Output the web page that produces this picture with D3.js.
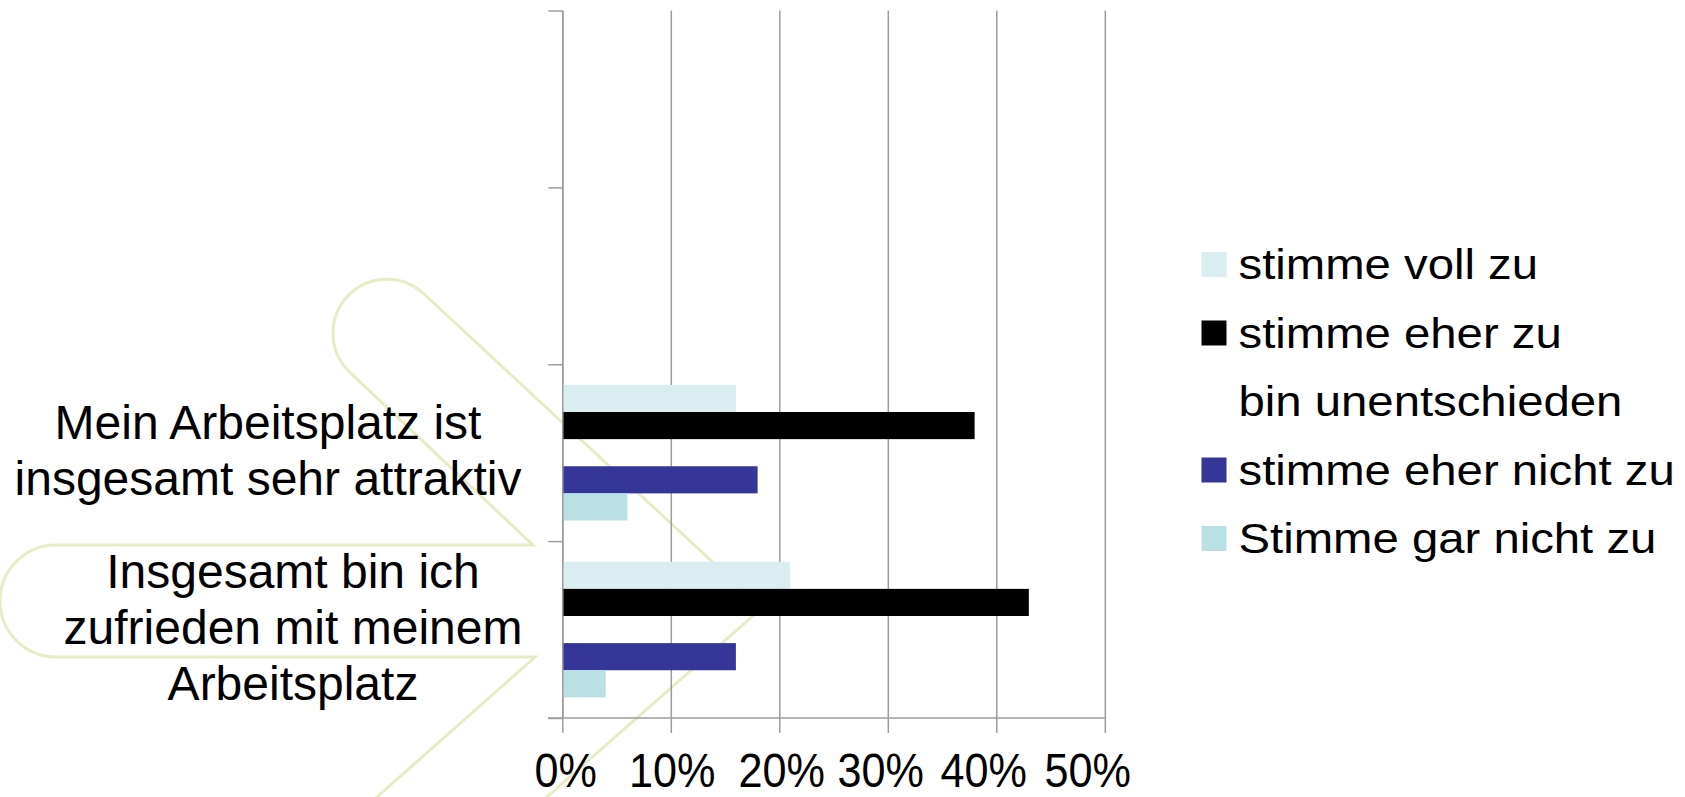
<!DOCTYPE html>
<html>
<head>
  <meta http-equiv="Content-Type" content="text/html; charset=UTF-8">
  <title>Arbeitsplatz Zufriedenheit</title>
  <script src="https://d3js.org/d3.v7.min.js"></script>
  <style>
    body { margin: 0; background: #fff; }
    text { font-family: "Liberation Sans", Arial, sans-serif; fill: #000; }
    .grid line { stroke: #9c9c9c; stroke-width: 1.5px; }
    .grid path { display: none; }
    .axis path, .axis line { stroke: #9c9c9c; stroke-width: 1.5px; }
    .deco { fill: none; stroke: #e8ecc6; stroke-width: 3px; }
  </style>
</head>
<body>
  <div id="chart"></div>
  <script>
    // chart data
    var categories = ["", "", "Mein Arbeitsplatz ist|insgesamt sehr attraktiv", "Insgesamt bin ich|zufrieden mit meinem|Arbeitsplatz"];
    var series = ["stimme voll zu", "stimme eher zu", "bin unentschieden", "stimme eher nicht zu", "Stimme gar nicht zu"];
    var colors = ["#daedf0", "#000000", "#ffffff", "#363598", "#b9e0e3"];
    // one row per category, one value per series (share of answers)
    var valuesAttraktiv = [0.16, 0.38, 0, 0.18, 0.06];
    var valuesZufrieden = [0.21, 0.43, 0, 0.16, 0.04];
    var values = [null, null, valuesAttraktiv, valuesZufrieden];
    var xTicks = [0, 0.1, 0.2, 0.3, 0.4, 0.5];

    var width = 1685, height = 797;
    var plotLeft = 562.3, plotRight = 1104.8, plotTop = 10.5, plotBottom = 718;
    var labelCenter = [0, 0, 268, 293];
    // the slide squeezes the last tick labels a bit to the left
    var tickLabelShift = [3, 1, 2, -7.5, -13, -17.5];

    var svg = d3.select("#chart").append("svg")
        .attr("width", width)
        .attr("height", height);

    // faint arrow watermark of the slide background
    svg.append("path")
        .attr("class", "deco")
        .attr("d", "M423,293 L762,608 L441,890");
    svg.append("path")
        .attr("class", "deco")
        .attr("d", "M423,293 A54,54 0 0 0 349.6,372.2 L533,545 L56,545 A56,56 0 0 0 56,657 L535,657 L272,890");

    // scales
    var x = d3.scaleLinear().domain([0, 0.5]).range([plotLeft, plotRight]);
    var y = d3.scaleBand().domain(d3.range(categories.length)).range([plotTop, plotBottom]);
    var yInner = d3.scaleBand().domain(series).range([0, y.bandwidth()]).paddingOuter(0.76);
    var yEdge = d3.scaleLinear().domain([0, categories.length]).range([plotTop, plotBottom]);

    // vertical gridlines
    svg.append("g")
        .attr("class", "grid")
        .attr("transform", "translate(0," + plotBottom + ")")
        .call(d3.axisBottom(x).tickValues(xTicks).tickSize(-(plotBottom - plotTop)).tickFormat(""));

    // bars
    var groups = svg.append("g").selectAll("g")
        .data(values.map(function(v, i) { return {i: i, v: v}; }).filter(function(d) { return d.v; }))
        .enter().append("g")
        .attr("transform", function(d) { return "translate(0," + y(d.i) + ")"; });

    groups.selectAll("rect")
        .data(function(d) { return d.v.map(function(val, k) { return {s: series[k], val: val, k: k}; }); })
        .enter().append("rect")
        .attr("x", x(0))
        .attr("y", function(d) { return yInner(d.s); })
        .attr("width", function(d) { return x(d.val) - x(0); })
        .attr("height", yInner.bandwidth())
        .attr("fill", function(d) { return colors[d.k]; });

    // x axis with tick labels
    var xAxis = svg.append("g")
        .attr("class", "axis")
        .attr("transform", "translate(0," + plotBottom + ")")
        .call(d3.axisBottom(x).tickValues(xTicks).tickSize(15).tickSizeOuter(0).tickFormat(d3.format(".0%")));
    xAxis.select(".domain").attr("d", "M548,0H" + plotRight);
    xAxis.selectAll("text")
        .attr("y", 69)
        .attr("dy", null)
        .attr("transform", function(d, i) { return "translate(" + tickLabelShift[i] + ",0) scale(0.9,1)"; })
        .style("font-size", "48px");

    // y axis: ticks on the category borders
    svg.append("g")
        .attr("class", "axis")
        .attr("transform", "translate(" + plotLeft + ",0)")
        .call(d3.axisLeft(yEdge).ticks(categories.length).tickSize(14).tickSizeOuter(0).tickFormat(""));

    // category labels
    var lineHeight = 55.7;
    categories.forEach(function(c, i) {
      if (!c) return;
      var lines = c.split("|");
      var cy = y(i) + y.bandwidth() / 2 + 14.3;
      var t = svg.append("text")
          .attr("text-anchor", "middle")
          .style("font-size", "48px");
      lines.forEach(function(line, j) {
        t.append("tspan")
            .attr("x", labelCenter[i])
            .attr("y", cy + (j - (lines.length - 1) / 2) * lineHeight)
            .text(line);
      });
    });

    // legend
    var legend = svg.append("g").selectAll("g")
        .data(series)
        .enter().append("g")
        .attr("transform", function(d, i) { return "translate(1201.5," + (279 + i * 68.5) + ")"; });

    legend.append("rect")
        .attr("x", 0)
        .attr("y", -27)
        .attr("width", 25)
        .attr("height", 25)
        .attr("fill", function(d, i) { return colors[i]; });

    legend.append("text")
        .attr("transform", "translate(37,0) scale(1.1,1)")
        .style("font-size", "43px")
        .text(function(d) { return d; });
  </script>
</body>
</html>
